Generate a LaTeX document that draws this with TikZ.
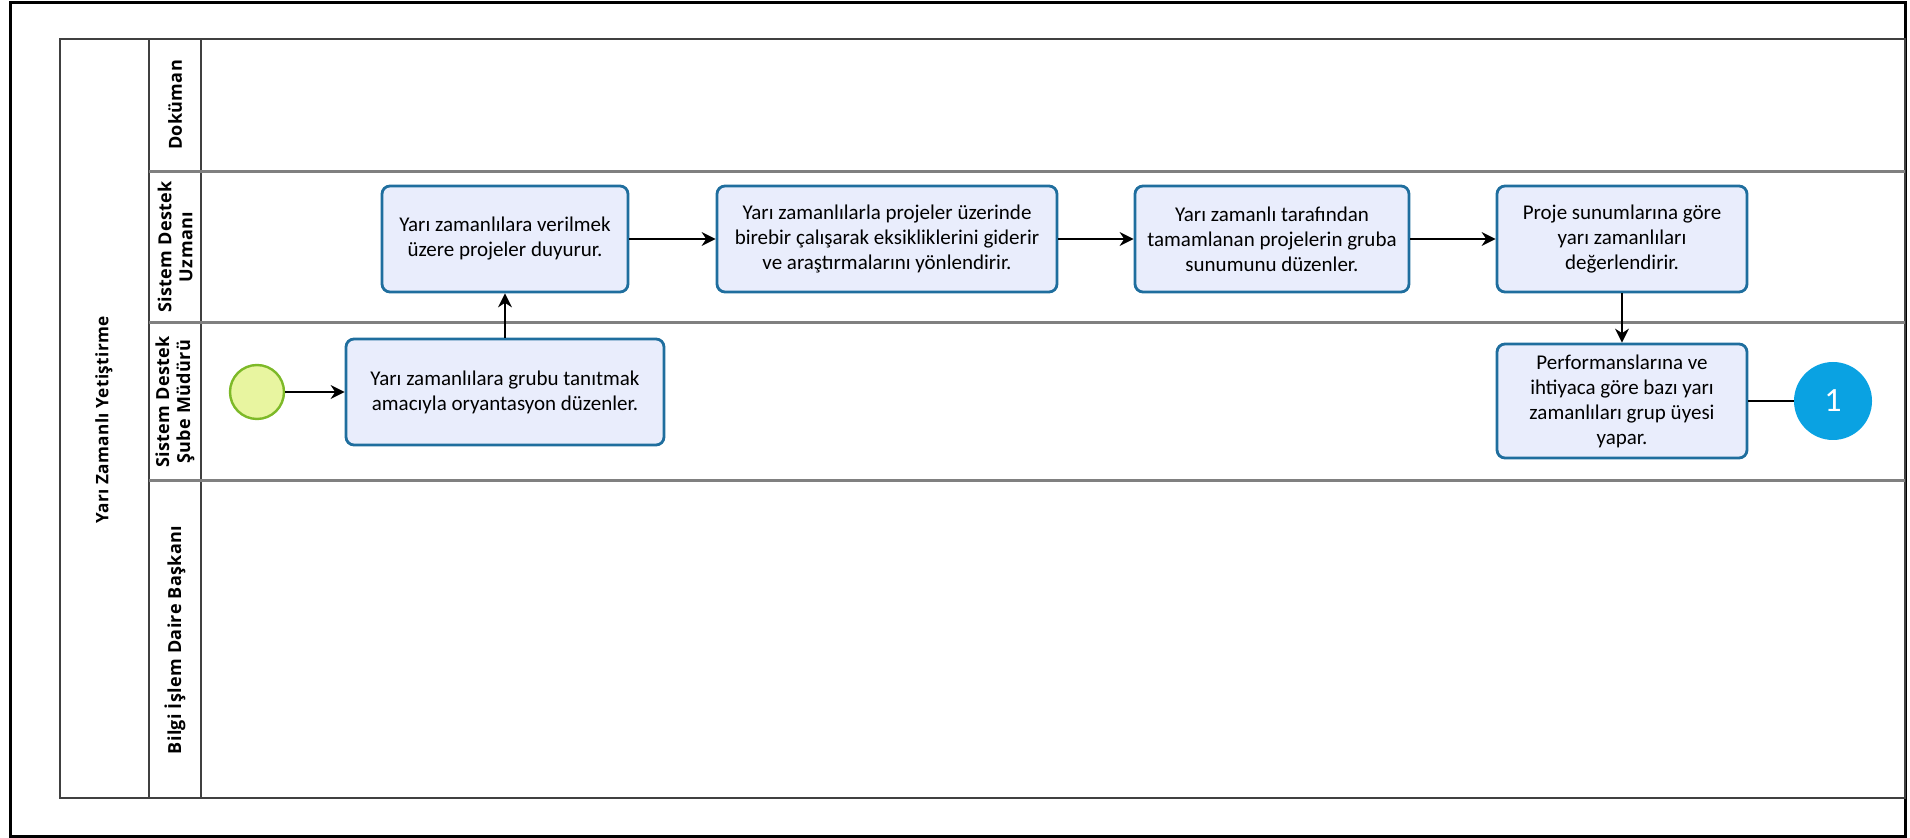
\documentclass[tikz,border=0pt]{standalone}
\usepackage{fontspec}
\setmainfont{Carlito}
\newfontfamily\lanefont[LetterSpace=2]{Open Sans}
\usetikzlibrary{arrows.meta,positioning}
\definecolor{taskblue}{HTML}{1F6E9E}
\definecolor{taskfill}{HTML}{E9EDFC}
\definecolor{startgreen}{HTML}{7DB928}
\definecolor{startfill}{HTML}{E8F5A0}
\definecolor{linkblue}{HTML}{0AA2E2}
\definecolor{lanegray}{HTML}{808080}

\begin{document}
\begin{tikzpicture}[x=0.5pt,y=-0.5pt,
  task/.style={rectangle,rounded corners=4pt,draw=taskblue,line width=1.4pt,fill=taskfill,
    align=center,inner sep=0pt,font=\fontsize{10.5}{12.5}\selectfont},
  lanelabel/.style={rotate=90,align=center,font=\lanefont\bfseries\fontsize{9}{10.5}\selectfont},
  flow/.style={-{Stealth[length=7pt,width=7pt]},line width=0.7pt}]
\useasboundingbox (0,0) rectangle (1910,838);
% \draw[help lines] (0,0) grid (1910,838);
\draw[line width=1.5pt] (10,3) rectangle (1905,836);
% pool and lanes
\draw[black!75,line width=0.8pt] (60,39) rectangle (1905,798);
\draw[black!75,line width=0.8pt] (149,39) -- (149,798);
\draw[black!75,line width=0.8pt] (201,39) -- (201,798);
\foreach \ly in {172,323,481}
  \draw[lanegray,line width=1.5pt] (149,\ly) -- (1905,\ly);
\node (pool) [lanelabel,font=\lanefont\bfseries\fontsize{8.6}{10}\selectfont] at (104,420) {Yarı Zamanlı Yetiştirme};
\node (lane1) [lanelabel] at (175,105) {Doküman};
\node (lane2) [lanelabel] at (175,247) {Sistem Destek\\Uzmanı};
\node (lane3) [lanelabel] at (175,402) {Sistem Destek\\Şube Müdürü};
\node (lane4) [lanelabel] at (175,640) {Bilgi İşlem Daire Başkanı};
%
\node (start) [circle,draw=startgreen,fill=startfill,line width=1.2pt,minimum size=27pt,inner sep=0pt] at (257,392) {};
\node (t1) [task,minimum width=159pt,minimum height=53pt] at (505,392) {Yarı zamanlılara grubu tanıtmak\\amacıyla oryantasyon düzenler.};
\node (t2) [task,minimum width=123pt,minimum height=53pt] at (505,239) {Yarı zamanlılara verilmek\\üzere projeler duyurur.};
\node (t3) [task,minimum width=170pt,minimum height=53pt] at (887,239) {Yarı zamanlılarla projeler üzerinde\\birebir çalışarak eksikliklerini giderir\\ve araştırmalarını yönlendirir.};
\node (t4) [task,minimum width=137pt,minimum height=53pt] at (1272,239) {Yarı zamanlı tarafından\\tamamlanan projelerin gruba\\sunumunu düzenler.};
\node (t5) [task,minimum width=125pt,minimum height=53pt] at (1622,239) {Proje sunumlarına göre\\yarı zamanlıları\\değerlendirir.};
\node (t6) [task,minimum width=125pt,minimum height=57pt] at (1622,401) {Performanslarına ve\\ihtiyaca göre bazı yarı\\zamanlıları grup üyesi\\yapar.};
\node (link) [circle,fill=linkblue,minimum size=39pt,inner sep=0pt,text=white,font=\fontsize{17}{17}\selectfont] at (1833,401) {1};
%
\path[flow] (start) edge (t1);
\path[flow] (t1) edge (t2);
\path[flow] (t2) edge (t3);
\path[flow] (t3) edge (t4);
\path[flow] (t4) edge (t5);
\path[flow] (t5) edge (t6);
\path[line width=0.7pt] (t6) edge (link);
\end{tikzpicture}
\end{document}
